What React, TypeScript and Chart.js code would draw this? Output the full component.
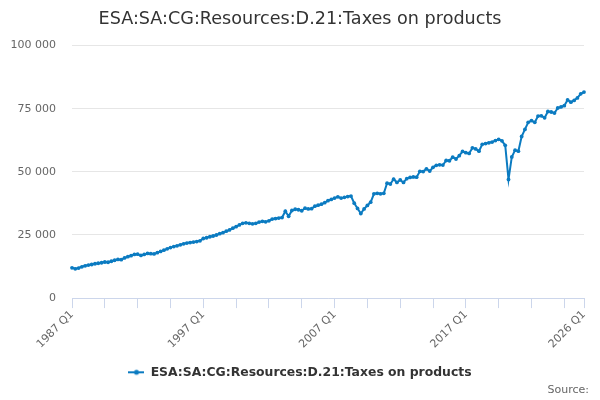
import { useEffect, useRef } from "react";
import { Chart, registerables } from "chart.js";

Chart.register(...registerables);

// Quarterly values
const values1987to1996 = [
  12000, 11600, 11900, 12400, 12800, 13100, 13300, 13600, 13800, 14000,
  14300, 14200, 14600, 15000, 15300, 15200, 15900, 16400, 16800, 17300,
  17400, 16900, 17300, 17700, 17600, 17500, 18000, 18500, 19000, 19500,
  20000, 20400, 20700, 21100, 21500, 21800, 22000, 22200, 22400, 22700,
];
const values1997to2006 = [
  23600, 23900, 24300, 24600, 25000, 25500, 25900, 26500, 27000, 27700,
  28300, 29000, 29600, 29800, 29600, 29400, 29600, 30100, 30400, 30200,
  30600, 31300, 31500, 31700, 31900, 34400, 32400, 34700, 35200, 35000,
  34600, 35600, 35300, 35400, 36400, 36800, 37200, 37800, 38600, 39100,
];
const values2007to2016 = [
  39600, 40100, 39600, 39900, 40200, 40400, 37600, 35500, 33500, 35300,
  36700, 38000, 41300, 41500, 41300, 41500, 45500, 45200, 47100, 45800,
  46800, 45800, 47300, 47800, 48000, 47900, 50200, 50100, 51200, 50300,
  51800, 52600, 52800, 52700, 54500, 54400, 55800, 55100, 56400, 58100,
];
const values2017to2026 = [
  57600, 57300, 59500, 59100, 58200, 60900, 61200, 61500, 61800, 62400,
  62900, 62300, 60500, 47000, 55900, 58600, 58200, 64000, 66800, 69600,
  70300, 69600, 72100, 72200, 71400, 73900, 73700, 73300, 75300, 75700,
  76200, 78500, 77600, 78300, 79300, 80900, 81600,
];

const firstYear = 1987;
const lastYear = 2026;
const quarters = ["Q1", "Q2", "Q3", "Q4"];
const seriesName = "ESA:SA:CG:Resources:D.21:Taxes on products";
const sourceText = "Source:";

const labels: string[] = [];
for (let y = firstYear; y <= lastYear; y++) {
  for (const q of quarters) {
    if (y === lastYear && q !== "Q1") continue;
    labels.push(`${y} ${q}`);
  }
}

const values = [
  ...values1987to1996,
  ...values1997to2006,
  ...values2007to2016,
  ...values2017to2026,
];

const lineColor = "#0b7bc1";
const fontFamily = "'DejaVu Sans', sans-serif";

const fmt = (v: number) => String(v).replace(/\B(?=(\d{3})+(?!\d))/g, " ");

// title and legend are centred on the whole canvas, not on the padded box
const layoutPlugin = {
  id: "fullWidthBoxes",
  afterLayout(chart: any) {
    const w = chart.width;
    for (const box of [chart.titleBlock, chart.legend]) {
      if (!box) continue;
      box.right = w;
      box.width = w - box.left;
    }
  },
};

const sourcePlugin = {
  id: "sourceText",
  afterDraw(chart: Chart) {
    const ctx = chart.ctx;
    ctx.save();
    ctx.font = `11px ${fontFamily}`;
    ctx.fillStyle = "#666666";
    ctx.textAlign = "right";
    ctx.textBaseline = "middle";
    ctx.fillText(sourceText, 589, 390);
    ctx.restore();
  },
};

const App = () => {
  const canvasRef = useRef<HTMLCanvasElement>(null);
  const chartRef = useRef<Chart | null>(null);

  useEffect(() => {
    document.body.style.margin = "0";
    if (!canvasRef.current) return;
    if (chartRef.current) chartRef.current.destroy();

    // legend symbol: short line with a dot
    const sym = document.createElement("canvas");
    sym.width = 16;
    sym.height = 8;
    const sctx = sym.getContext("2d");
    if (sctx) {
      sctx.strokeStyle = lineColor;
      sctx.fillStyle = lineColor;
      sctx.lineWidth = 2;
      sctx.beginPath();
      sctx.moveTo(0, 4);
      sctx.lineTo(16, 4);
      sctx.stroke();
      sctx.beginPath();
      sctx.arc(8, 4, 2.5, 0, Math.PI * 2);
      sctx.fill();
    }

    const last = labels.length - 1;

    chartRef.current = new Chart(canvasRef.current, {
      type: "line",
      data: {
        labels,
        datasets: [
          {
            label: seriesName,
            data: values,
            borderColor: lineColor,
            backgroundColor: lineColor,
            borderWidth: 2,
            pointRadius: 1.9,
            pointBorderWidth: 0,
            pointBackgroundColor: lineColor,
            tension: 0,
          },
        ],
      },
      options: {
        responsive: false,
        animation: false,
        layout: { padding: { left: 0, right: 16, top: 0, bottom: 11.5 } },
        plugins: {
          title: {
            display: true,
            text: seriesName,
            color: "#333333",
            font: { family: fontFamily, size: 17.6, weight: "normal" },
            padding: { top: 8.5, bottom: 16 },
          },
          legend: {
            position: "bottom",
            labels: {
              usePointStyle: true,
              pointStyleWidth: 16,
              color: "#333333",
              font: { family: fontFamily, size: 12.4, weight: "bold" },
              padding: 10,
              generateLabels: (chart: Chart) =>
                Chart.defaults.plugins.legend.labels
                  .generateLabels(chart)
                  .map((l: any) => ({ ...l, pointStyle: sym })),
            },
          },
          tooltip: { enabled: false },
        },
        scales: {
          x: {
            type: "category",
            afterBuildTicks: (scale: any) => {
              scale.ticks = scale.ticks.filter(
                (t: any) => t.value % 10 === 0 || t.value === last
              );
            },
            afterFit: (scale: any) => {
              scale.height = 58;
            },
            grid: {
              drawOnChartArea: false,
              drawTicks: true,
              tickLength: 10,
              color: "#ccd6eb",
            },
            border: { display: true, color: "#ccd6eb" },
            ticks: {
              autoSkip: false,
              maxRotation: 45,
              minRotation: 45,
              padding: 0,
              color: "#666666",
              font: { family: fontFamily, size: 11 },
              callback: (value: any) =>
                value % 40 === 0 || value === last ? labels[value] : "",
            },
          },
          y: {
            min: 0,
            max: 100000,
            afterFit: (scale: any) => {
              scale.width = 72;
            },
            grid: { color: "#e6e6e6", drawTicks: false },
            border: { display: false },
            ticks: {
              stepSize: 25000,
              padding: 16,
              color: "#666666",
              font: { family: fontFamily, size: 11 },
              callback: (value: any) => fmt(Number(value)),
            },
          },
        },
      },
      plugins: [layoutPlugin, sourcePlugin],
    });

    return () => {
      if (chartRef.current) {
        chartRef.current.destroy();
        chartRef.current = null;
      }
    };
  }, []);

  return (
    <div style={{ width: 600, height: 400 }}>
      <canvas ref={canvasRef} width={600} height={400}></canvas>
    </div>
  );
};

export default App;
